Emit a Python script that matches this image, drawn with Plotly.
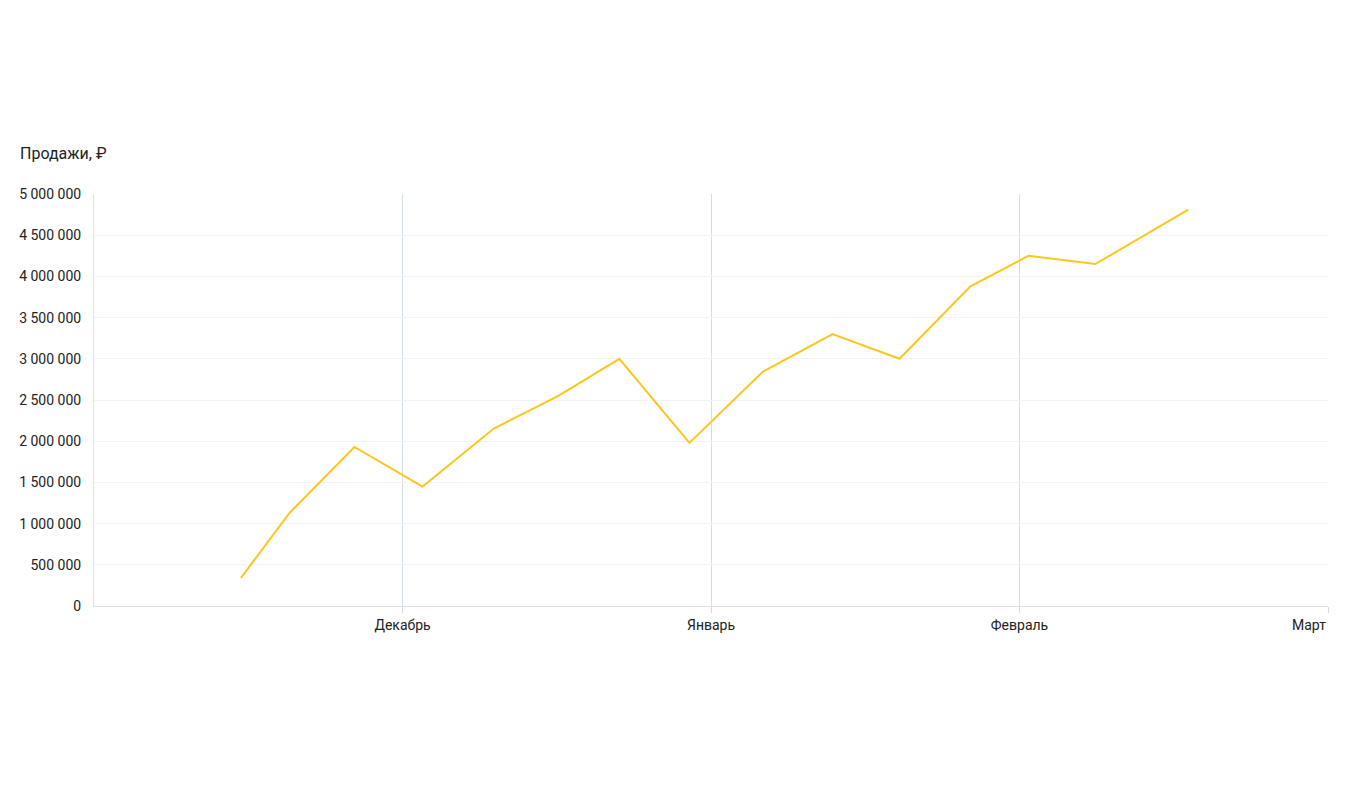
import plotly.graph_objects as go

# Month positions (0 = start of November, 1 = December, ...)
month_pos = [0.476, 0.634, 0.844, 1.065, 1.295, 1.505, 1.703, 1.930, 2.167, 2.394, 2.611, 2.841, 3.029, 3.246, 3.547]
sales = [340000, 1130000, 1930000, 1450000, 2150000, 2550000, 3000000, 1980000, 2840000, 3300000, 3000000, 3880000, 4250000, 4150000, 4810000]

month_ticks = [1, 2, 3, 4]
month_labels = ["Декабрь", "Январь", "Февраль", ""]
last_month_label = "Март"

y_ticks = list(range(0, 5000001, 500000))
y_labels = [f"{v:,}".replace(",", " ") for v in y_ticks]

fig = go.Figure()
fig.add_trace(go.Scatter(
    x=month_pos, y=sales, mode="lines",
    line=dict(color="#FFC61A", width=2),
    hoverinfo="skip",
))

fig.update_layout(
    width=1350, height=797,
    margin=dict(l=86, r=30, t=186, b=199),
    paper_bgcolor="white", plot_bgcolor="white",
    font=dict(family="Roboto", size=14, color="#222222"),
    showlegend=False,
)
fig.update_xaxes(
    range=[0, 4], tickvals=month_ticks, ticktext=month_labels,
    showgrid=True, gridcolor="#D3DCE2", gridwidth=1,
    showline=True, linecolor="#DCE3E8", linewidth=1,
    ticks="outside", ticklen=6, tickcolor="#D3DCE2",
    zeroline=False, tickfont=dict(size=14, color="#222222"),
)
fig.update_yaxes(
    range=[0, 5000000], tickvals=y_ticks, ticktext=y_labels,
    showgrid=True, gridcolor="#F1F3F5", gridwidth=1,
    showline=True, linecolor="#DCE3E8", linewidth=1,
    zeroline=False, ticks="", ticklabelstandoff=9,
    tickfont=dict(size=14, color="#222222"),
)
fig.add_annotation(
    text="Продажи, ₽", xref="paper", yref="paper",
    x=-0.0616, y=1.0995, xanchor="left", yanchor="middle",
    showarrow=False, font=dict(size=16, color="#222222"),
)
fig.add_annotation(
    text=last_month_label, xref="x", yref="paper",
    x=4, y=0, xanchor="right", yanchor="top", yshift=-9, xshift=0,
    showarrow=False, font=dict(size=14, color="#222222"),
)
fig.add_shape(
    type="line", xref="paper", yref="paper",
    x0=1.0154, x1=1.0154, y0=1.175, y1=-0.167,
    line=dict(color="#E6EAED", width=1),
)

fig.write_html("out.html")
